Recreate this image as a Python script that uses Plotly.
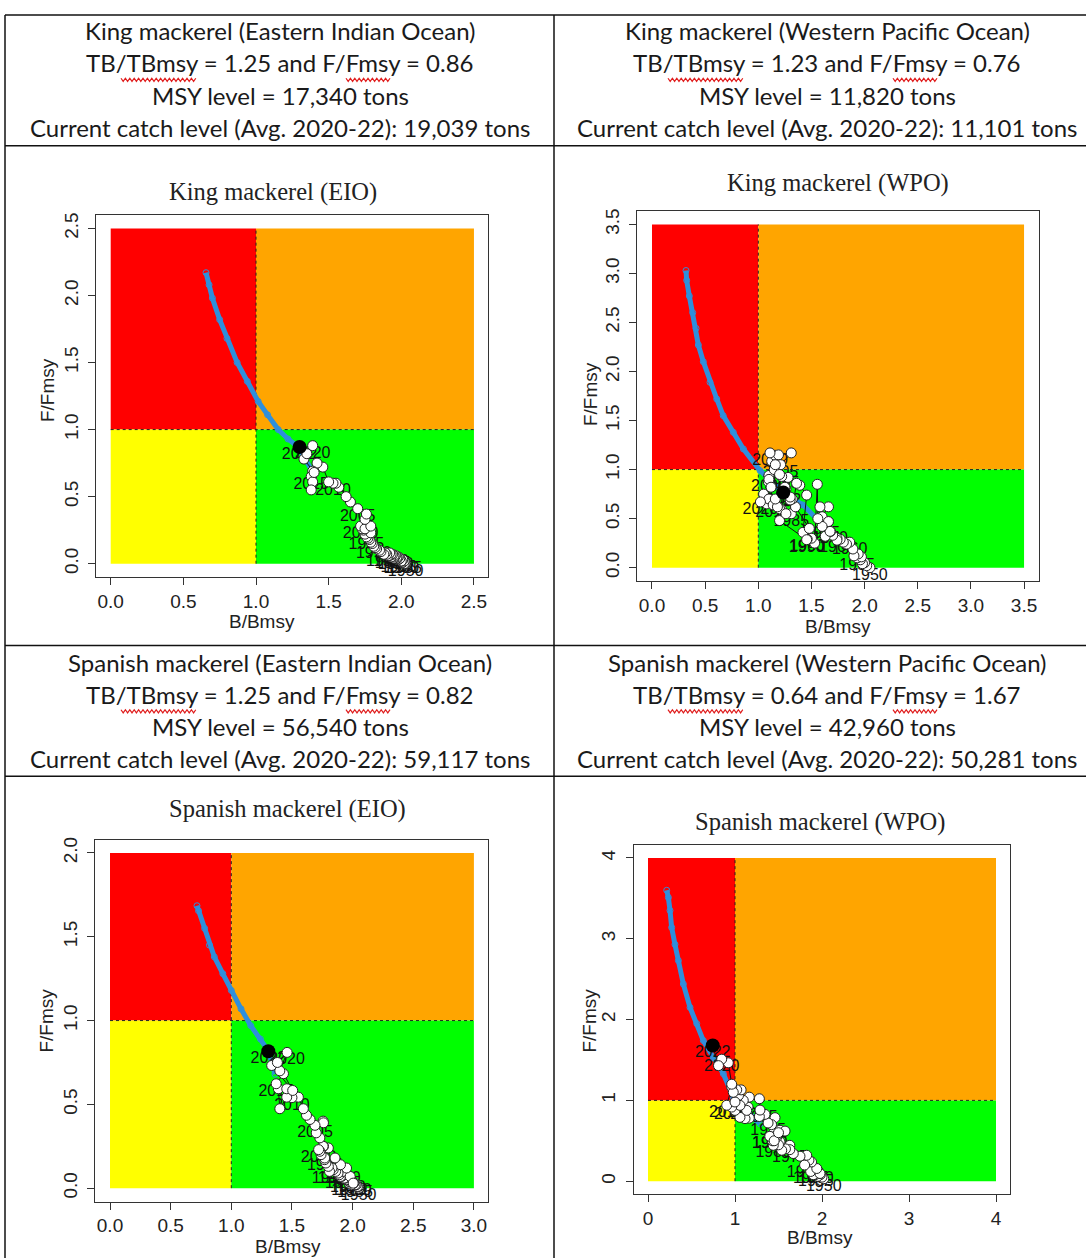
import plotly.graph_objects as go

W, H = 1086, 1258

# ---------------- DATA ----------------
years = list(range(1950, 2023))

# King mackerel, Eastern Indian Ocean
king_eio_b = [2.03, 2.02, 2.03, 2.02, 2.01, 2.02, 2.01, 2.02, 2.00, 2.01, 2.00, 2.01, 1.99, 2.00, 1.99,
              1.98, 1.99, 1.97, 1.98, 1.97, 1.96, 1.97, 1.95, 1.96, 1.95, 1.94, 1.95, 1.93, 1.94, 1.92,
              1.93, 1.91, 1.92, 1.90, 1.89, 1.88,
              1.86, 1.85, 1.83, 1.82, 1.81,
              1.80, 1.79, 1.78, 1.77, 1.76,
              1.75, 1.79, 1.74, 1.73, 1.72,
              1.75, 1.79, 1.75, 1.76, 1.70,
              1.65, 1.62, 1.57, 1.55, 1.53,
              1.50, 1.46, 1.42, 1.39, 1.38,
              1.39, 1.38, 1.40, 1.33, 1.39, 1.35, 1.30]
king_eio_f = [0.00, 0.01, 0.01, 0.00, 0.01, 0.02, 0.01, 0.02, 0.02, 0.03, 0.02, 0.03, 0.03, 0.02, 0.04,
              0.03, 0.04, 0.04, 0.05, 0.04, 0.05, 0.05, 0.04, 0.06, 0.05, 0.06, 0.06, 0.05, 0.07, 0.06,
              0.07, 0.06, 0.08, 0.07, 0.08, 0.07,
              0.09, 0.10, 0.11, 0.12, 0.13,
              0.15, 0.16, 0.18, 0.19, 0.20,
              0.22, 0.23, 0.25, 0.26, 0.28,
              0.26, 0.28, 0.33, 0.37, 0.41,
              0.46, 0.50, 0.57, 0.60, 0.60,
              0.61, 0.72, 0.75, 0.69, 0.65,
              0.61, 0.55, 0.68, 0.78, 0.88, 0.82, 0.87]
king_eio_curve_b = [0.656, 0.677, 0.70, 0.75, 0.80, 0.87, 0.94, 1.015, 1.08, 1.153, 1.22, 1.28, 1.33, 1.39]
king_eio_curve_f = [2.17, 2.08, 1.98, 1.82, 1.68, 1.50, 1.36, 1.21, 1.11, 1.00, 0.93, 0.88, 0.80, 0.68]

# King mackerel, Western Pacific Ocean
king_wpo_b = [2.05, 2.02, 2.00, 1.98, 1.96, 1.93, 1.97, 1.94, 1.90, 1.89,
              1.86, 1.83, 1.80, 1.77, 1.74, 1.74, 1.70, 1.68, 1.66, 1.63,
              1.675, 1.60, 1.66, 1.58, 1.66, 1.60, 1.56, 1.555, 1.53, 1.50,
              1.46, 1.42, 1.455, 1.39, 1.36, 1.31, 1.30, 1.28, 1.22, 1.20,
              1.455, 1.48, 1.35, 1.32, 1.26, 1.22, 1.14, 1.10, 1.08, 1.095,
              1.10, 1.126, 1.157, 1.19, 1.31, 1.21, 1.15, 1.12, 1.05, 1.10,
              1.11, 1.16, 1.20, 1.25, 1.30, 1.14, 1.20, 1.26, 1.18, 1.30,
              1.02, 1.16, 1.235]
king_wpo_f = [0.00, 0.02, 0.05, 0.04, 0.08, 0.10, 0.11, 0.14, 0.12, 0.19,
              0.26, 0.24, 0.26, 0.29, 0.30, 0.28, 0.33, 0.37, 0.47, 0.32,
              0.37, 0.52, 0.62, 0.62, 0.47, 0.42, 0.50, 0.85, 0.25, 0.30,
              0.29, 0.36, 0.74, 0.84, 0.86, 0.55, 0.69, 0.92, 0.59, 0.48,
              0.285, 0.40, 0.62, 0.70, 0.80, 0.93, 0.64, 0.94, 0.65, 0.875,
              0.90, 1.085, 1.146, 1.15, 1.17, 1.05, 1.00, 0.82, 0.75, 0.70,
              1.17, 1.05, 0.95, 0.82, 0.69, 0.64, 0.60, 0.55, 0.62, 0.72,
              0.67, 0.70, 0.766]
king_wpo_curve_b = [0.32, 0.326, 0.351, 0.383, 0.414, 0.436, 0.483, 0.546, 0.609, 0.67, 0.765, 0.86, 1.016, 1.235, 1.42, 1.61]
king_wpo_curve_f = [3.03, 2.93, 2.77, 2.60, 2.44, 2.27, 2.10, 1.89, 1.72, 1.55, 1.38, 1.21, 0.99, 0.766, 0.64, 0.43]

# Spanish mackerel, Eastern Indian Ocean
span_eio_b = [2.05, 2.04, 2.05, 2.03, 2.04, 2.02, 2.03, 2.01, 2.02, 2.00, 2.01, 1.99, 2.00, 1.98, 1.99,
              1.97, 1.98, 1.96, 1.97, 1.95, 1.96, 1.94, 1.95, 1.93, 1.94, 1.92, 1.93, 1.91, 1.90, 1.89,
              1.92, 1.98, 2.005, 1.95, 1.88, 1.86, 1.84, 1.90, 1.855, 1.83,
              1.81, 1.80, 1.78, 1.77, 1.80, 1.77, 1.76, 1.74, 1.757, 1.73,
              1.72, 1.73, 1.70, 1.757, 1.76, 1.69, 1.649, 1.62, 1.594, 1.553,
              1.50, 1.457, 1.40, 1.388, 1.457, 1.37, 1.43, 1.506, 1.333, 1.40,
              1.46, 1.38, 1.305]
span_eio_f = [0.00, 0.01, 0.01, 0.02, 0.01, 0.02, 0.02, 0.03, 0.02, 0.03, 0.03, 0.02, 0.04, 0.03, 0.04,
              0.03, 0.04, 0.05, 0.04, 0.05, 0.05, 0.06, 0.05, 0.06, 0.06, 0.07, 0.06, 0.07, 0.07, 0.08,
              0.10, 0.07, 0.03, 0.12, 0.09, 0.10, 0.11, 0.14, 0.18, 0.12,
              0.10, 0.13, 0.15, 0.17, 0.24, 0.18, 0.25, 0.20, 0.25, 0.22,
              0.23, 0.30, 0.33, 0.40, 0.39, 0.375, 0.41, 0.435, 0.474, 0.543,
              0.54, 0.543, 0.474, 0.593, 0.593, 0.623, 0.683, 0.583, 0.732, 0.70,
              0.81, 0.75, 0.817]
span_eio_curve_b = [0.717, 0.73, 0.78, 0.82, 0.86, 0.93, 1.0, 1.08, 1.16, 1.24, 1.305, 1.36]
span_eio_curve_f = [1.685, 1.655, 1.55, 1.45, 1.38, 1.28, 1.18, 1.07, 0.97, 0.89, 0.82, 0.68]

# Spanish mackerel, Western Pacific Ocean
span_wpo_b = [2.02, 2.00, 1.98, 1.95, 1.97, 1.93, 1.96, 1.92, 1.94, 1.90,
              1.93, 1.89, 1.92, 1.88, 1.90, 1.87, 1.977, 1.94, 1.88, 1.85,
              1.80, 1.824, 1.747, 1.67, 1.63, 1.63, 1.58, 1.537, 1.517, 1.50,
              1.44, 1.48, 1.46, 1.42, 1.45, 1.40, 1.43, 1.48, 1.517, 1.575,
              1.40, 1.45, 1.50, 1.46, 1.42, 1.38, 1.345, 1.28, 1.164, 1.115,
              1.15, 1.134, 1.057, 1.00, 1.05, 1.287, 1.28, 1.164, 1.095, 1.057,
              0.962, 1.04, 1.07, 1.02, 0.962, 0.905, 1.00, 0.98, 0.962, 0.923,
              0.847, 0.81, 0.744]
span_wpo_f = [0.03, 0.05, 0.08, 0.06, 0.10, 0.09, 0.12, 0.08, 0.15, 0.10,
              0.12, 0.14, 0.10, 0.16, 0.08, 0.12, 0.095, 0.157, 0.238, 0.26,
              0.20, 0.321, 0.309, 0.342, 0.444, 0.39, 0.40, 0.383, 0.486, 0.45,
              0.444, 0.547, 0.60, 0.52, 0.65, 0.555, 0.50, 0.57, 0.63, 0.62,
              0.555, 0.50, 0.60, 0.786, 0.70, 0.72, 0.827, 0.80, 0.78, 0.774,
              0.917, 0.876, 0.79, 0.876, 0.95, 0.88, 1.02, 1.04, 1.00, 0.938,
              0.917, 1.06, 1.13, 1.13, 1.164, 0.94, 0.98, 1.10, 1.20, 1.465,
              1.51, 1.43, 1.68]
span_wpo_curve_b = [0.215, 0.234, 0.253, 0.272, 0.31, 0.349, 0.406, 0.483, 0.56, 0.636, 0.75, 0.866, 0.98, 1.13, 1.25, 1.29]
span_wpo_curve_f = [3.60, 3.51, 3.35, 3.14, 2.93, 2.73, 2.44, 2.15, 1.95, 1.74, 1.53, 1.33, 1.04, 0.876, 0.75, 0.71]

ticks_25 = [0, 0.5, 1.0, 1.5, 2.0, 2.5]
ticks_25_lab = ["0.0", "0.5", "1.0", "1.5", "2.0", "2.5"]
ticks_35 = [0, 0.5, 1.0, 1.5, 2.0, 2.5, 3.0, 3.5]
ticks_35_lab = ["0.0", "0.5", "1.0", "1.5", "2.0", "2.5", "3.0", "3.5"]
ticks_30 = [0, 0.5, 1.0, 1.5, 2.0, 2.5, 3.0]
ticks_30_lab = ["0.0", "0.5", "1.0", "1.5", "2.0", "2.5", "3.0"]
ticks_20 = [0, 0.5, 1.0, 1.5, 2.0]
ticks_20_lab = ["0.0", "0.5", "1.0", "1.5", "2.0"]
ticks_4 = [0, 1, 2, 3, 4]
ticks_4_lab = ["0", "1", "2", "3", "4"]

header_king_eio = ["King mackerel (Eastern Indian Ocean)", "TB/TBmsy = 1.25 and F/Fmsy = 0.86",
                   "MSY level = 17,340 tons", "Current catch level (Avg. 2020-22): 19,039 tons"]
header_king_wpo = ["King mackerel (Western Pacific Ocean)", "TB/TBmsy = 1.23 and F/Fmsy = 0.76",
                   "MSY level = 11,820 tons", "Current catch level (Avg. 2020-22): 11,101 tons"]
header_span_eio = ["Spanish mackerel (Eastern Indian Ocean)", "TB/TBmsy = 1.25 and F/Fmsy = 0.82",
                   "MSY level = 56,540 tons", "Current catch level (Avg. 2020-22): 59,117 tons"]
header_span_wpo = ["Spanish mackerel (Western Pacific Ocean)", "TB/TBmsy = 0.64 and F/Fmsy = 1.67",
                   "MSY level = 42,960 tons", "Current catch level (Avg. 2020-22): 50,281 tons"]

# ---------------- LAYOUT ----------------
def X(px):
    return px / W


def Y(py):
    return 1 - py / H


panels = [
    dict(title="King mackerel (EIO)", b=king_eio_b, f=king_eio_f, cb=king_eio_curve_b, cf=king_eio_curve_f,
         xmax=2.5, ymax=2.5, xt=ticks_25, xtl=ticks_25_lab, yt=ticks_25, ytl=ticks_25_lab,
         x0=110.7, xs=145.3, y0=562, ys=134.4, xr=[-0.1, 2.6], yr=[-0.1, 2.6],
         tpos=(273, 189), xlab=(262, 620), ylab=(47, 388)),
    dict(title="King mackerel (WPO)", b=king_wpo_b, f=king_wpo_f, cb=king_wpo_curve_b, cf=king_wpo_curve_f,
         xmax=3.5, ymax=3.5, xt=ticks_35, xtl=ticks_35_lab, yt=ticks_35, ytl=ticks_35_lab,
         x0=652, xs=106.3, y0=566, ys=98.3, xr=[-0.14, 3.64], yr=[-0.14, 3.64],
         tpos=(838, 180), xlab=(838, 625), ylab=(590, 392)),
    dict(title="Spanish mackerel (EIO)", b=span_eio_b, f=span_eio_f, cb=span_eio_curve_b, cf=span_eio_curve_f,
         xmax=3.0, ymax=2.0, xt=ticks_30, xtl=ticks_30_lab, yt=ticks_20, ytl=ticks_20_lab,
         x0=110, xs=121.3, y0=1188, ys=168, xr=[-0.12, 3.12], yr=[-0.08, 2.08],
         tpos=(287, 808), xlab=(288, 1246), ylab=(47, 1020)),
    dict(title="Spanish mackerel (WPO)", b=span_wpo_b, f=span_wpo_f, cb=span_wpo_curve_b, cf=span_wpo_curve_f,
         xmax=4.0, ymax=4.0, xt=ticks_4, xtl=ticks_4_lab, yt=ticks_4, ytl=ticks_4_lab,
         x0=648, xs=87, y0=1181, ys=81, xr=[-0.16, 4.16], yr=[-0.16, 4.16],
         tpos=(820, 821), xlab=(820, 1237), ylab=(590, 1020)),
]

fig = go.Figure()
shapes = []
annotations = []
AX_FONT = dict(family="Liberation Sans, Arial", size=19, color="#222")
BLUE = "#2E8FDC"

for i, p in enumerate(panels):
    n = "" if i == 0 else str(i + 1)
    xa, ya = "x" + n, "y" + n
    xdom = [X(p["x0"] + p["xs"] * p["xr"][0]), X(p["x0"] + p["xs"] * p["xr"][1])]
    ydom = [Y(p["y0"] - p["ys"] * p["yr"][0]), Y(p["y0"] - p["ys"] * p["yr"][1])]
    common = dict(showgrid=False, zeroline=False, showline=True, mirror=True, linecolor="#333",
                  linewidth=1, ticks="outside", ticklen=7, tickcolor="#333", tickwidth=1,
                  tickfont=AX_FONT, fixedrange=True)
    fig.layout["xaxis" + n] = dict(domain=xdom, range=p["xr"], anchor=ya, tickvals=p["xt"],
                                   ticktext=p["xtl"], ticklabelstandoff=0, **common)
    fig.layout["yaxis" + n] = dict(domain=ydom, range=p["yr"], anchor=xa, tickvals=p["yt"],
                                   ticktext=p["ytl"], tickangle=-90, ticklabelstandoff=3, **common)

    # Kobe quadrants
    for (x0, x1, y0, y1, col) in [(0, 1, 1, p["ymax"], "#FF0000"), (1, p["xmax"], 1, p["ymax"], "#FFA500"),
                                  (0, 1, 0, 1, "#FFFF00"), (1, p["xmax"], 0, 1, "#00FF00")]:
        shapes.append(dict(type="rect", xref=xa, yref=ya, x0=x0, x1=x1, y0=y0, y1=y1,
                           fillcolor=col, line=dict(width=0), layer="below"))
    shapes.append(dict(type="line", xref=xa, yref=ya, x0=1, x1=1, y0=0, y1=p["ymax"],
                       line=dict(color="#222", width=1, dash="dot"), layer="below"))
    shapes.append(dict(type="line", xref=xa, yref=ya, x0=0, x1=p["xmax"], y0=1, y1=1,
                       line=dict(color="#222", width=1, dash="dot"), layer="below"))

    # blue curve
    fig.add_trace(go.Scatter(x=p["cb"], y=p["cf"], xaxis=xa, yaxis=ya, mode="lines+markers",
                             line=dict(color=BLUE, width=5),
                             marker=dict(symbol="circle-open", size=6, color=BLUE, line=dict(width=1)),
                             hoverinfo="skip", showlegend=False))
    # year labels
    lab_idx = [k for k, yr in enumerate(years) if yr % 5 == 0 or k == len(years) - 1]
    fig.add_trace(go.Scatter(x=[p["b"][k] for k in lab_idx], y=[p["f"][k] for k in lab_idx],
                             text=[str(years[k]) for k in lab_idx], xaxis=xa, yaxis=ya, mode="text",
                             textposition="bottom center",
                             textfont=dict(family="Liberation Sans, Arial", size=16, color="#111"),
                             hoverinfo="skip", showlegend=False))
    # trajectory
    fig.add_trace(go.Scatter(x=p["b"], y=p["f"], xaxis=xa, yaxis=ya, mode="lines+markers",
                             line=dict(color="#111", width=1),
                             marker=dict(size=10, color="white", line=dict(color="#222", width=1)),
                             hoverinfo="skip", showlegend=False))
    # current point
    fig.add_trace(go.Scatter(x=[p["b"][-1]], y=[p["f"][-1]], xaxis=xa, yaxis=ya, mode="markers",
                             marker=dict(size=14, color="black"), hoverinfo="skip", showlegend=False))

    annotations.append(dict(text=p["title"], x=X(p["tpos"][0]), y=Y(p["tpos"][1]), xref="paper", yref="paper",
                            showarrow=False, xanchor="center", yanchor="middle",
                            font=dict(family="Liberation Serif, Times New Roman", size=24.5, color="#222")))
    annotations.append(dict(text="B/Bmsy", x=X(p["xlab"][0]), y=Y(p["xlab"][1]), xref="paper", yref="paper",
                            showarrow=False, xanchor="center", yanchor="middle", font=AX_FONT))
    annotations.append(dict(text="F/Fmsy", x=X(p["ylab"][0]), y=Y(p["ylab"][1]), xref="paper", yref="paper",
                            showarrow=False, xanchor="center", yanchor="middle", textangle=-90, font=AX_FONT))

# header cells
HFONT = dict(family="Lato, Carlito, Calibri, sans-serif", size=24, color="#1a1a1a")
for lines, cx, ys in [(header_king_eio, 280, [28, 60, 93, 125]), (header_king_wpo, 827, [28, 60, 93, 125]),
                      (header_span_eio, 280, [661, 693, 725, 757]), (header_span_wpo, 827, [661, 693, 725, 757])]:
    for txt, yy in zip(lines, ys):
        annotations.append(dict(text=txt, x=X(cx), y=Y(yy), xref="paper", yref="paper", showarrow=False,
                                xanchor="center", yanchor="middle", font=HFONT))


# red spell-check squiggles under "TBmsy" and "Fmsy"
def squiggle(xa_px, xb_px, y_px):
    pts = []
    xx = xa_px
    k = 0
    while xx <= xb_px:
        yy = y_px + (1.6 if k % 2 else -1.6)
        pts.append("%s%.5f,%.5f" % ("M" if k == 0 else "L", X(xx), Y(yy)))
        xx += 2.2
        k += 1
    return "".join(pts)


for ox, oy in [(0, 0), (547, 0), (0, 633), (547, 633)]:
    for (a, b) in [(121, 197), (346, 392)]:
        shapes.append(dict(type="path", xref="paper", yref="paper", path=squiggle(a + ox, b + ox, 77 + oy),
                           line=dict(color="#E01E1E", width=1.2)))

# table lines
TL = dict(color="#111", width=1.5)
for (x0, y0, x1, y1) in [(5, 12, 1086, 12), (5, 143, 1086, 143), (5, 644, 1086, 644), (5, 775, 1086, 775),
                         (5, 12, 5, 1258), (554, 12, 554, 1258)]:
    shapes.append(dict(type="line", xref="paper", yref="paper", x0=X(x0), x1=X(x1), y0=Y(y0), y1=Y(y1), line=TL))

fig.update_layout(width=W, height=H, margin=dict(l=0, r=0, t=0, b=0), paper_bgcolor="white",
                  plot_bgcolor="white", shapes=shapes, annotations=annotations, showlegend=False)
fig.write_html("out.html", config={"displayModeBar": False},
               post_script="document.body.style.margin='0px';document.body.style.overflow='hidden';")
